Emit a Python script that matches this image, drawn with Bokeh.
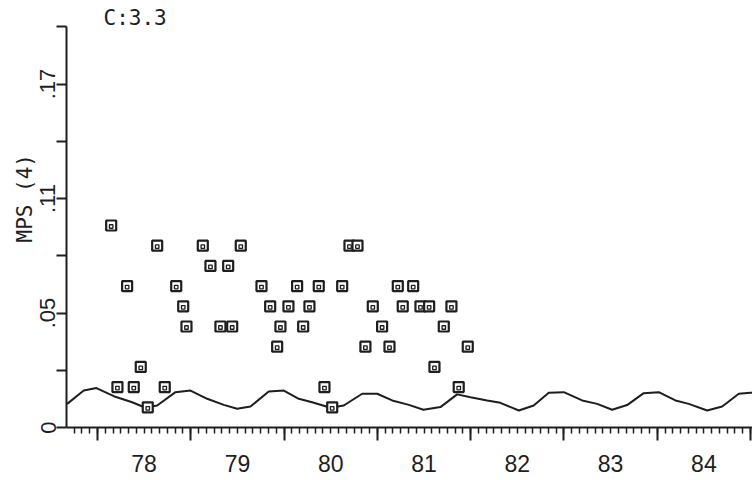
from bokeh.plotting import figure
from bokeh.models import Range1d, LinearAxis, FixedTicker, CustomJSTickFormatter, Title
from bokeh.embed import file_html
from bokeh.resources import INLINE

# observed MPS(4) values (decimal year, value)
obs_year = [78.147, 78.214, 78.318, 78.389, 78.464, 78.539, 78.640, 78.721, 78.844, 78.919,
            78.954, 79.129, 79.211, 79.318, 79.401, 79.444, 79.536, 79.758, 79.851, 79.926,
            79.961, 80.047, 80.140, 80.205, 80.272, 80.372, 80.433, 80.516, 80.623, 80.701,
            80.787, 80.872, 80.951, 81.051, 81.130, 81.219, 81.272, 81.384, 81.462, 81.555,
            81.612, 81.712, 81.794, 81.872, 81.969]
obs_mps = [0.10, 0.02, 0.07, 0.02, 0.03, 0.01, 0.09, 0.02, 0.07, 0.06,
           0.05, 0.09, 0.08, 0.05, 0.08, 0.05, 0.09, 0.07, 0.06, 0.04,
           0.05, 0.06, 0.07, 0.05, 0.06, 0.07, 0.02, 0.01, 0.07, 0.09,
           0.09, 0.04, 0.06, 0.05, 0.04, 0.07, 0.06, 0.07, 0.06, 0.06,
           0.03, 0.05, 0.06, 0.02, 0.04]

# seasonal model curve
curve_year = [77.675, 77.853, 77.989, 78.175, 78.372, 78.514, 78.640, 78.836, 78.997, 79.176,
              79.354, 79.497, 79.640, 79.836, 79.997, 80.158, 80.301, 80.497, 80.640, 80.837,
              80.998, 81.159, 81.337, 81.494, 81.676, 81.855, 81.998, 82.177, 82.319, 82.516,
              82.676, 82.837, 82.998, 83.195, 83.356, 83.517, 83.677, 83.855, 84.016, 84.195,
              84.338, 84.535, 84.696, 84.874, 84.999, 85.05]
curve_mps = [0.0117, 0.0183, 0.0195, 0.0155, 0.0125, 0.0098, 0.0109, 0.0175, 0.0183, 0.0142,
             0.0112, 0.0093, 0.0104, 0.0178, 0.0183, 0.0142, 0.0125, 0.0098, 0.0109, 0.0167,
             0.0167, 0.0134, 0.0112, 0.0088, 0.0101, 0.0164, 0.0150, 0.0134, 0.0122, 0.0084,
             0.0109, 0.0172, 0.0175, 0.0134, 0.0117, 0.0088, 0.0111, 0.0170, 0.0175, 0.0134,
             0.0117, 0.0084, 0.0104, 0.0167, 0.0172, 0.0172]

year_bounds = [78, 79, 80, 81, 82, 83, 84, 85]
year_label_pos = [78.5, 79.5, 80.5, 81.5, 82.5, 83.5, 84.5]
year_labels = ["78", "79", "80", "81", "82", "83", "84"]
month_ticks = [77 + 8 / 12 + i / 12 for i in range(0, 89)]

y_ticks = [0, 0.17 / 3, 0.34 / 3, 0.17]
y_minor = [0.17 / 6, 0.17 / 2, 0.17 * 5 / 6, 0.17 * 7 / 6]
y_tick_labels = ["0", ".05", ".11", ".17"]

FONT = "DejaVu Sans Mono"
NUMFONT = "Liberation Sans"
INK = "#1e1e1e"

p = figure(width=752, height=480, output_backend="svg", toolbar_location=None,
           x_range=Range1d(77.668, 85.021), y_range=Range1d(0, 0.1985),
           x_axis_type=None, y_axis_type=None,
           min_border_left=66, min_border_right=0, min_border_top=26, min_border_bottom=53)
p.outline_line_color = None
p.background_fill_color = "white"
p.border_fill_color = "white"

# annotation at top left
t = Title(text="C:3.3", align="left", offset=37, standoff=-7,
          text_font=FONT, text_font_size="21px", text_font_style="normal", text_color=INK)
p.add_layout(t, "above")

# left axis
yax = LinearAxis(ticker=FixedTicker(ticks=y_ticks, minor_ticks=y_minor),
                 formatter=CustomJSTickFormatter(args=dict(labels=y_tick_labels),
                                                 code="return labels[index]"))
yax.major_label_orientation = "parallel"
yax.major_label_text_font = NUMFONT
yax.major_label_text_font_size = "22px"
yax.major_label_text_color = INK
yax.major_label_standoff = 1
yax.axis_line_width = 2
yax.axis_line_color = INK
yax.major_tick_line_color = INK
yax.minor_tick_line_color = INK
yax.major_tick_line_width = 2
yax.minor_tick_line_width = 2
yax.major_tick_out = 10
yax.major_tick_in = 0
yax.minor_tick_out = 10
yax.minor_tick_in = 0
p.add_layout(yax, "left")

# y axis title, placed off-centre like the original
ylab = Title(text="MPS (4)", align="left", offset=185, standoff=2,
             text_font=FONT, text_font_size="21px", text_font_style="normal", text_color=INK)
p.add_layout(ylab, "left")

# bottom axis with ticks (year boundaries, months)
xax = LinearAxis(ticker=FixedTicker(ticks=year_bounds, minor_ticks=month_ticks),
                 formatter=CustomJSTickFormatter(code="return ''"))
xax.axis_line_width = 2
xax.axis_line_color = INK
xax.major_tick_line_color = INK
xax.minor_tick_line_color = INK
xax.major_tick_line_width = 2
xax.minor_tick_line_width = 1.5
xax.major_tick_out = 13
xax.major_tick_in = 0
xax.minor_tick_out = 6
xax.minor_tick_in = 0
xax.major_label_standoff = 0
p.add_layout(xax, "below")

# bottom axis carrying the year labels centred in each year
xlab = LinearAxis(ticker=FixedTicker(ticks=year_label_pos, minor_ticks=[]),
                  major_label_overrides={k: v for k, v in zip(year_label_pos, year_labels)})
xlab.axis_line_color = None
xlab.major_tick_line_color = None
xlab.minor_tick_line_color = None
xlab.major_tick_out = 0
xlab.major_tick_in = 0
xlab.major_label_standoff = 14
xlab.major_label_text_font = NUMFONT
xlab.major_label_text_font_size = "23px"
xlab.major_label_text_color = INK
p.add_layout(xlab, "below")

# model curve
p.line(curve_year, curve_mps, line_color=INK, line_width=2)

# observations
p.scatter(obs_year, obs_mps, marker="square", size=10, fill_color="white",
          line_color=INK, line_width=2.2)
p.scatter(obs_year, [v - 0.0005 for v in obs_mps], marker="square", size=3.5,
          fill_color=None, line_color=INK, line_width=1.3)

open("out.html", "w").write(file_html(p, INLINE))
